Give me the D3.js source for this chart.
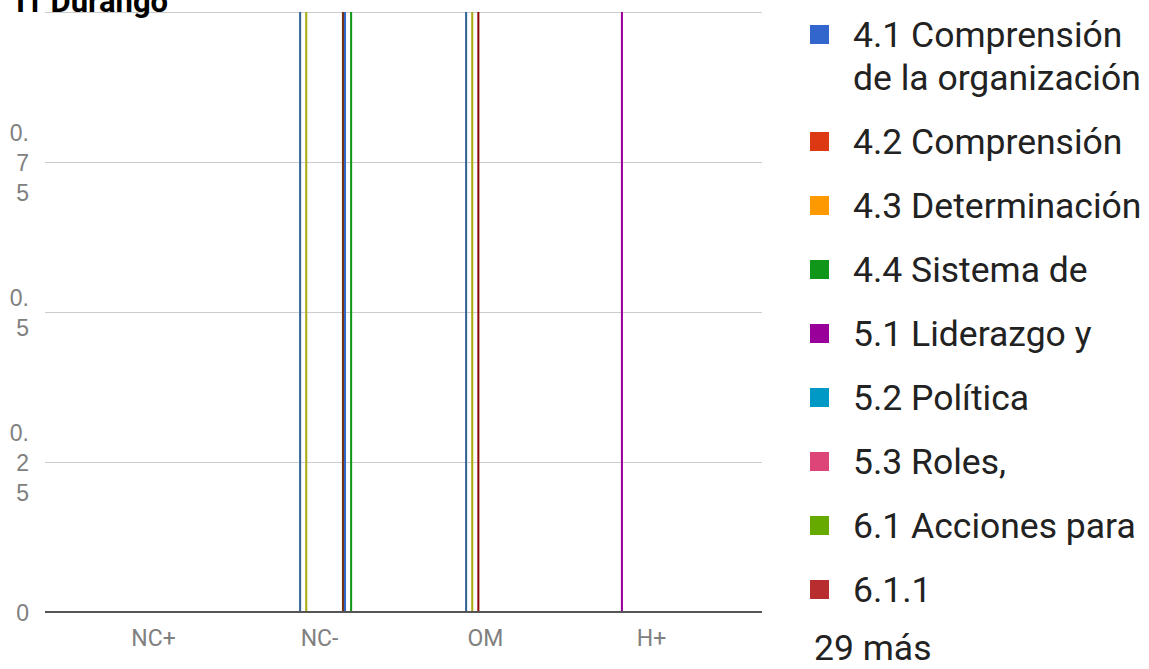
<!DOCTYPE html>
<html>
<head>
<meta charset="utf-8">
<script src="https://cdn.jsdelivr.net/npm/d3@7/dist/d3.min.js"></script>
<style>
  html, body { margin: 0; padding: 0; background: #fff; }
  svg { display: block; font-family: Roboto, "Noto Sans", Arial, sans-serif; }
</style>
</head>
<body>
<svg id="chart" width="1149" height="669"></svg>
<script>
// ---------- data ----------
const title = "I1 Durango";
const categories = ["NC+", "NC-", "OM", "H+"];
const seriesCount = 38;
// values per category, one entry per series (38 series)
const valuesNCplus  = [0,0,0,0,0,0,0,0,0,0, 0,0,0,0,0,0,0,0,0,0, 0,0,0,0,0,0,0,0,0,0, 0,0,0,0,0,0,0,0];
const valuesNCminus = [0,0,0,0,0,0,0,0,0,1, 0,0,1,0,0,0,0,0,0,0, 0,0,0,0,0,0,0,0,0,0, 1,1,0,0,1,0,0,0];
const valuesOM      = [0,0,0,0,0,0,0,0,0,1, 0,0,1,0,0,1,0,0,0,0, 0,0,0,0,0,0,0,0,0,0, 0,0,0,0,0,0,0,0];
const valuesHplus   = [0,0,0,0,1,0,0,0,0,0, 0,0,0,0,0,0,0,0,0,0, 0,0,0,0,0,0,0,0,0,0, 0,0,0,0,0,0,0,0];
const yTicks = [0, 0.25, 0.5, 0.75, 1];
const yTickLabels = [["0"], ["0.", "2", "5"], ["0.", "5"], ["0.", "7", "5"], [""]];
const legendLabels = [
  ["4.1 Comprensión", "de la organización"],
  ["4.2 Comprensión"],
  ["4.3 Determinación"],
  ["4.4 Sistema de"],
  ["5.1 Liderazgo y"],
  ["5.2 Política"],
  ["5.3 Roles,"],
  ["6.1 Acciones para"],
  ["6.1.1"]
];
const moreLabel = "29 más";
const palette = ["#3366cc","#dc3912","#ff9900","#109618","#990099","#0099c6","#dd4477","#66aa00","#b82e2e","#316395","#994499","#22aa99","#aaaa11","#6633cc","#e67300","#8b0707","#651067","#329262","#5574a6","#3b3eac","#b77322","#16d620","#b91383","#f4359e","#9c5935","#a9c413","#2a778d","#668d1c","#bea413","#0c5922","#743411"];

const valuesByCategory = [valuesNCplus, valuesNCminus, valuesOM, valuesHplus];

// ---------- layout ----------
const svg = d3.select("#chart");
const plotLeft = 45, plotRight = 762, plotTop = 12, plotBottom = 612;

const x0 = d3.scaleBand().domain(categories).range([70.5, 734.5]).paddingInner(0).paddingOuter(0);
const groupW = x0.bandwidth() * 0.467;
const x1 = d3.scaleBand().domain(d3.range(seriesCount)).range([-groupW / 2, groupW / 2]);
const y = d3.scaleLinear().domain([0, 1]).range([plotBottom, plotTop]);
const color = i => palette[i % palette.length];

// gridlines + y labels via axis
const yAxis = d3.axisLeft(y).tickValues(yTicks).tickSize(-(plotRight - plotLeft)).tickFormat("");
const gy = svg.append("g").attr("transform", `translate(${plotLeft},0)`).call(yAxis);
gy.select(".domain").remove();
gy.selectAll(".tick line").attr("stroke", "#cccccc").attr("stroke-width", 1);
gy.selectAll(".tick").each(function(d) {
  const lines = yTickLabels[yTicks.indexOf(d)];
  const lh = 30;
  const t = d3.select(this).append("text")
    .attr("x", 29 - plotLeft)
    .attr("text-anchor", "end")
    .attr("fill", "#808080")
    .attr("font-size", 23);
  lines.forEach((ln, k) => {
    t.append("tspan")
      .attr("x", 29 - plotLeft)
      .attr("y", (k - (lines.length - 1) / 2) * lh + 8)
      .text(ln);
  });
});

// bars
const groups = svg.append("g").selectAll("g")
  .data(categories)
  .join("g")
  .attr("transform", d => `translate(${x0(d) + x0.bandwidth() / 2},0)`);
groups.selectAll("rect")
  .data((d, ci) => valuesByCategory[ci].map((v, si) => ({ v, si })).filter(e => e.v > 0))
  .join("rect")
  .attr("x", e => x1(e.si))
  .attr("width", x1.bandwidth())
  .attr("y", e => y(e.v))
  .attr("height", e => y(0) - y(e.v))
  .attr("fill", e => color(e.si));

// baseline
svg.append("line")
  .attr("x1", plotLeft).attr("x2", plotRight)
  .attr("y1", y(0)).attr("y2", y(0))
  .attr("stroke", "#555").attr("stroke-width", 2);

// x axis labels
const xAxis = d3.axisBottom(x0).tickSize(0).tickPadding(0);
const gx = svg.append("g").attr("transform", `translate(0,${plotBottom})`).call(xAxis);
gx.select(".domain").remove();
gx.selectAll(".tick text")
  .attr("y", 34).attr("dy", 0)
  .attr("fill", "#808080")
  .attr("font-size", 23)
  .attr("font-family", "Roboto, Arial, sans-serif");

// title
svg.append("text")
  .attr("x", 16).attr("y", 12)
  .attr("font-size", 31).attr("font-weight", "bold")
  .attr("fill", "#000")
  .text(title);

// legend
const lg = svg.append("g");
let ly = 35;
legendLabels.forEach((lines, i) => {
  lg.append("rect")
    .attr("x", 810).attr("y", ly - 10)
    .attr("width", 19).attr("height", 19)
    .attr("fill", color(i));
  lines.forEach((ln, k) => {
    lg.append("text")
      .attr("x", 853).attr("y", ly + k * 43 + 12)
      .attr("font-size", 35.5).attr("fill", "#222")
      .text(ln);
  });
  ly += (lines.length - 1) * 43 + 64;
});
lg.append("text")
  .attr("x", 814).attr("y", ly - 6 + 12)
  .attr("font-size", 35.5).attr("fill", "#222")
  .text(moreLabel);
</script>
</body>
</html>
